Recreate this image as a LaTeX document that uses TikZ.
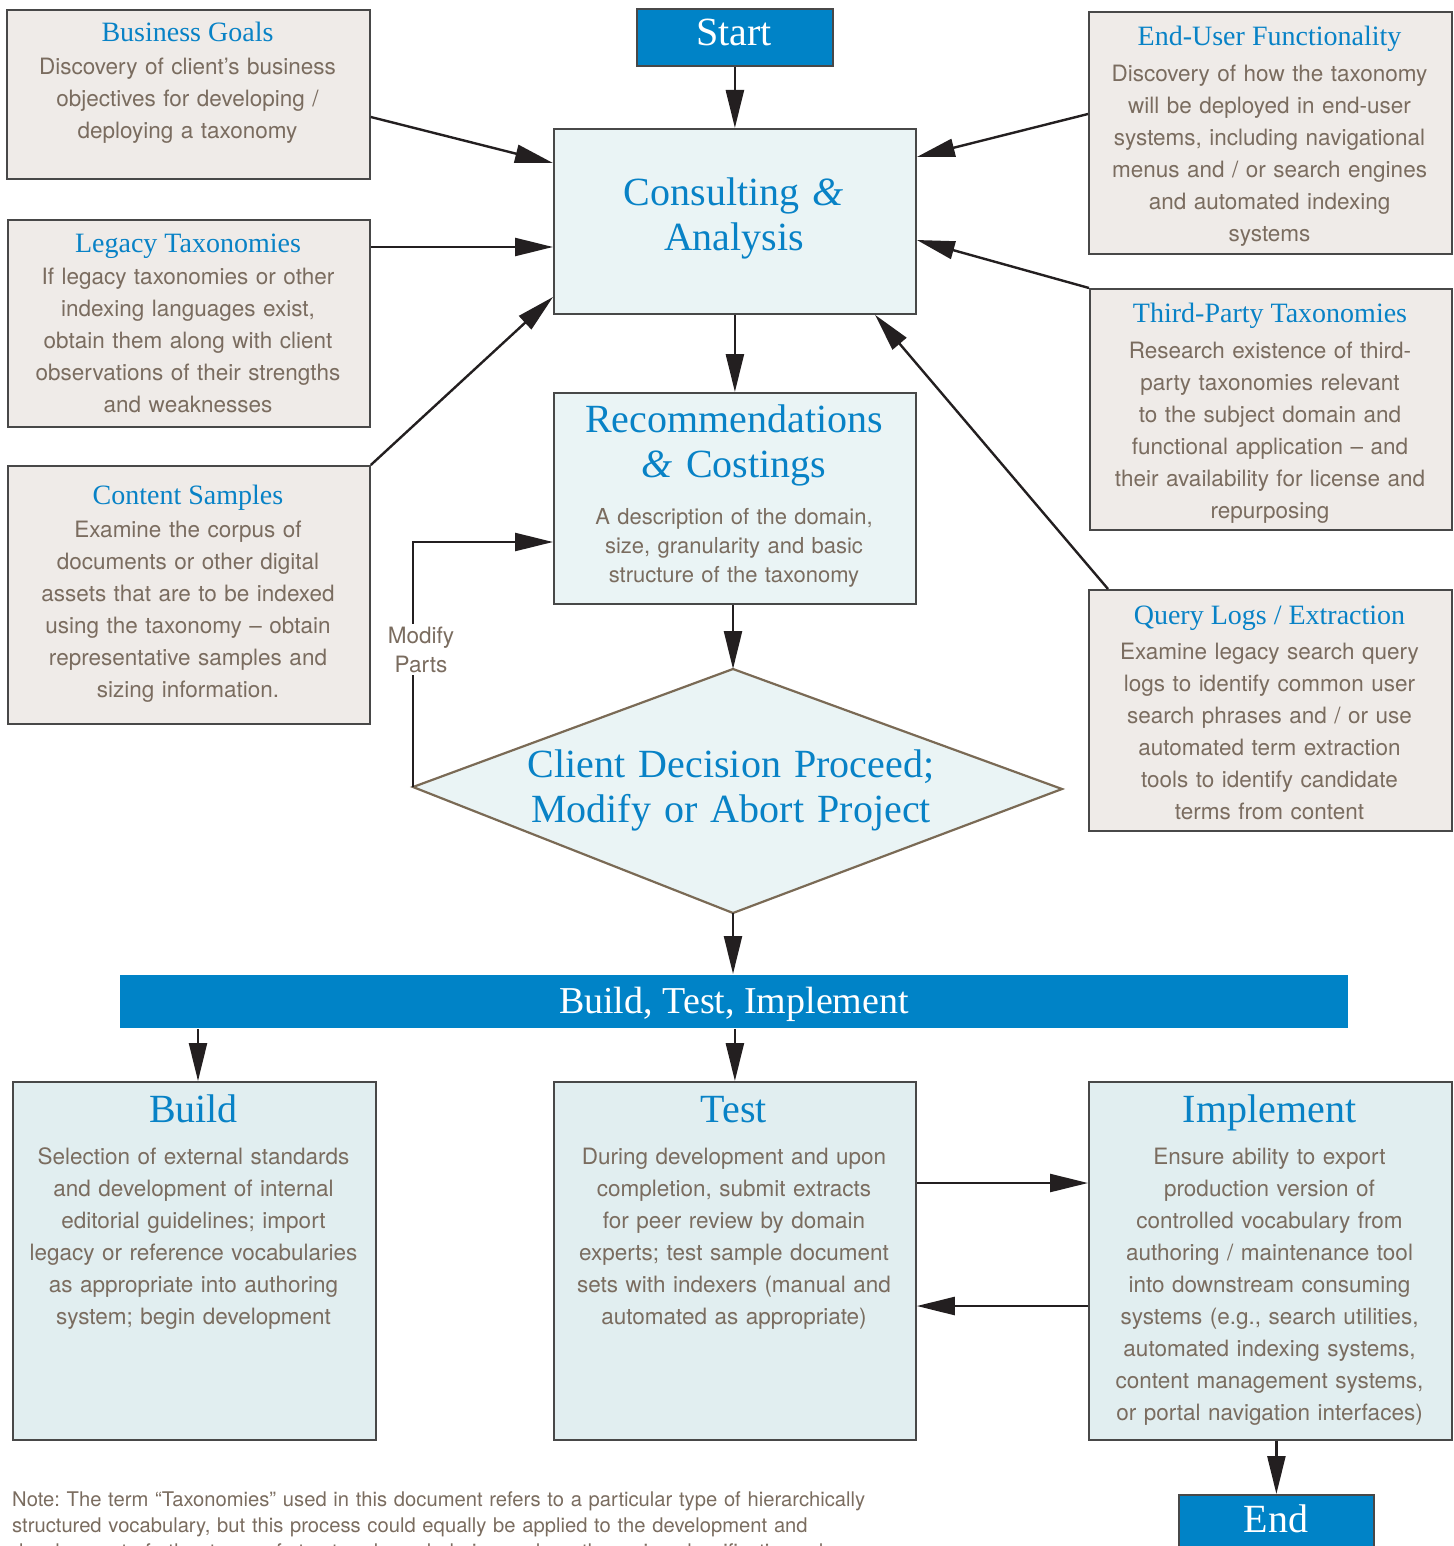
\documentclass[tikz,border=0pt]{standalone}
\usepackage{fontspec}
\setmainfont{TeX Gyre Heros}
\newfontfamily\serifttl{Liberation Serif}
\usetikzlibrary{arrows.meta,calc}
\frenchspacing
\definecolor{ttlblue}{RGB}{8,130,198}
\definecolor{bodytxt}{RGB}{122,108,95}
\definecolor{beige}{RGB}{239,235,232}
\definecolor{paleblue}{RGB}{234,244,245}
\definecolor{paleblue2}{RGB}{225,238,240}
\definecolor{strongblue}{RGB}{0,131,199}
\definecolor{edgegray}{RGB}{72,72,72}
\definecolor{dmdedge}{RGB}{122,106,85}
\definecolor{arrowblack}{RGB}{35,31,32}
\begin{document}
\begin{tikzpicture}[x=1pt,y=-1pt,
  box/.style={draw=edgegray, line width=1.8pt, anchor=north west, inner sep=0pt},
  side/.style={box, fill=beige},
  mainbox/.style={box, fill=paleblue},
  lowbox/.style={box, fill=paleblue2},
  termbox/.style={box, fill=strongblue},
  ttl/.style={anchor=base, inner sep=0pt, text=ttlblue, font=\serifttl\fontsize{28}{32}\selectfont},
  bigttl/.style={anchor=base, inner sep=0pt, text=ttlblue, text width=640pt, align=center, font=\serifttl\fontsize{40}{45}\selectfont},
  whitettl/.style={anchor=base, inner sep=0pt, text=white, font=\serifttl\fontsize{40}{45}\selectfont},
  body/.style={anchor=base, inner sep=0pt, text=bodytxt, text width=363pt, align=center, font=\fontsize{22.5}{32}\selectfont},
  arr/.style={draw=arrowblack, line width=2.4pt, -{Triangle[length=38pt,width=18pt]}},
]
\useasboundingbox (0,0) rectangle (1453,1546);
\clip (0,0) rectangle (1453,1546);

% ---------- boxes ----------
\node[termbox, minimum width=196pt, minimum height=57pt] (start) at (636,8) {};
\node[whitettl] (startt) at (734,46) {Start};

\node[mainbox, minimum width=362pt, minimum height=185pt] (ca) at (553,128) {};
\node[bigttl] (cat) at (734,206) {Consulting {\itshape\&}\\Analysis};

\node[side, minimum width=363pt, minimum height=169pt] (bg) at (6,9) {};
\node[ttl] (bgt) at (187.5,42) {Business Goals};
\node[body] (bgb) at (187.5,75) {Discovery of client’s business\\objectives for developing /\\deploying a taxonomy};

\node[side, minimum width=362pt, minimum height=207pt] (lt) at (7,219) {};
\node[ttl] (ltt) at (188,252) {Legacy Taxonomies};
\node[body] (ltb) at (188,284) {If legacy taxonomies or other\\indexing languages exist,\\obtain them along with client\\observations of their strengths\\and weaknesses};

\node[side, minimum width=362pt, minimum height=258pt] (cs) at (7,465) {};
\node[ttl] (cst) at (188,504) {Content Samples};
\node[body] (csb) at (188,537) {Examine the corpus of\\documents or other digital\\assets that are to be indexed\\using the taxonomy – obtain\\representative samples and\\sizing information.};

\node[side, minimum width=363pt, minimum height=242pt] (eu) at (1088,11) {};
\node[ttl] (eut) at (1269.5,46) {End-User Functionality};
\node[body] (eub) at (1269.5,82) {Discovery of how the taxonomy\\will be deployed in end-user\\systems, including navigational\\menus and / or search engines\\and automated indexing\\systems};

\node[side, minimum width=362pt, minimum height=241pt] (tp) at (1089,288) {};
\node[ttl] (tpt) at (1270,322) {Third-Party Taxonomies};
\node[body] (tpb) at (1270,358) {Research existence of third-\\party taxonomies relevant\\to the subject domain and\\functional application – and\\their availability for license and\\repurposing};

\node[side, minimum width=363pt, minimum height=241pt] (ql) at (1088,589) {};
\node[ttl] (qlt) at (1269.5,624) {Query Logs / Extraction};
\node[body] (qlb) at (1269.5,659) {Examine legacy search query\\logs to identify common user\\search phrases and / or use\\automated term extraction\\tools to identify candidate\\terms from content};

\node[mainbox, minimum width=362pt, minimum height=211pt] (rec) at (553,392) {};
\node[bigttl] (rect) at (734,432) {Recommendations\\{\itshape\&} Costings};
\node[body, font=\fontsize{22}{29}\selectfont] (recb) at (734,524) {A description of the domain,\\size, granularity and basic\\structure of the taxonomy};

% ---------- diamond ----------
\coordinate (dtop) at (733,669);
\coordinate (dright) at (1062,789);
\coordinate (dbot) at (733,913);
\coordinate (dleft) at (413,787);
\draw[draw=dmdedge, line width=2.2pt, fill=paleblue] (dtop) -- (dright) -- (dbot) -- (dleft) -- cycle;
\node[bigttl] (dmt) at (731,777) {Client Decision Proceed;\\Modify or Abort Project};

% ---------- bar ----------
\node[box, draw=none, fill=strongblue, minimum width=1228pt, minimum height=53pt] (bar) at (119,974) {};
\node[whitettl, font=\serifttl\fontsize{38}{45}\selectfont] (bart) at (734,1013) {Build, Test, Implement};

% ---------- lower boxes ----------
\node[lowbox, minimum width=363pt, minimum height=358pt] (build) at (12,1081) {};
\node[bigttl] (buildt) at (193.5,1122) {Build};
\node[body] (buildb) at (193.5,1164) {Selection of external standards\\and development of internal\\editorial guidelines; import\\legacy or reference vocabularies\\as appropriate into authoring\\system; begin development};

\node[lowbox, minimum width=362pt, minimum height=358pt] (test) at (553,1081) {};
\node[bigttl] (testt) at (734,1122) {Test};
\node[body] (testb) at (734,1164) {During development and upon\\completion, submit extracts\\for peer review by domain\\experts; test sample document\\sets with indexers (manual and\\automated as appropriate)};

\node[lowbox, minimum width=363pt, minimum height=358pt] (impl) at (1088,1081) {};
\node[bigttl] (implt) at (1269.5,1122) {Implement};
\node[body] (implb) at (1269.5,1164) {Ensure ability to export\\production version of\\controlled vocabulary from\\authoring / maintenance tool\\into downstream consuming\\systems (e.g., search utilities,\\automated indexing systems,\\content management systems,\\or portal navigation interfaces)};

\node[termbox, minimum width=195pt, minimum height=70pt] (endn) at (1178,1494) {};
\node[whitettl] (endt) at (1276,1532) {End};

% ---------- connectors ----------
\draw[arr] (start.south) -- (ca.north -| start.south);
\draw[arr] (bg.east |- 0,117) -- (ca.west |- 0,163);
\draw[arr] (lt.east |- 0,247) -- (ca.west |- 0,247);
\draw[arr] (cs.north east) -- (ca.west |- 0,297);
\draw[arr] (eu.west |- 0,114) -- (ca.east |- 0,157);
\draw[arr] (tp.north west) -- (ca.east |- 0,240);
\draw[arr] (ql.north west -| 1108,0) -- (ca.south -| 875,0);
\draw[arr] (ca.south) -- (rec.north);
\draw[arr] (rec.south -| dtop) -- (dtop);
\coordinate (recin) at (553,542);
\draw[arr] (dleft) |- (recin);
\node[anchor=base, fill=white, inner sep=3pt, text=bodytxt, text width=72pt, align=center, font=\fontsize{22.5}{29}\selectfont] (mp) at (421,643) {Modify\\Parts};
\draw[arr] (dbot) -- (bar.north -| dbot);
\draw[arr] (bar.south -| 198,0) -- (build.north -| 198,0);
\draw[arr] (bar.south -| test.north) -- (test.north);
\draw[arr] (test.east |- 0,1183) -- (impl.west |- 0,1183);
\draw[arr] (impl.west |- 0,1306) -- (test.east |- 0,1306);
\draw[arr] (impl.south -| endn.north) -- (endn.north);

% ---------- note ----------
\node[anchor=base west, inner sep=0pt, text=bodytxt, text width=1100pt, align=left, font=\fontsize{20.2}{26}\selectfont] (note) at (12,1506) {Note: The term “Taxonomies” used in this document refers to a particular type of hierarchically\\structured vocabulary, but this process could equally be applied to the development and\\development of other types of structured vocabularies such as these, i.e. classification schemes};
\end{tikzpicture}
\end{document}
